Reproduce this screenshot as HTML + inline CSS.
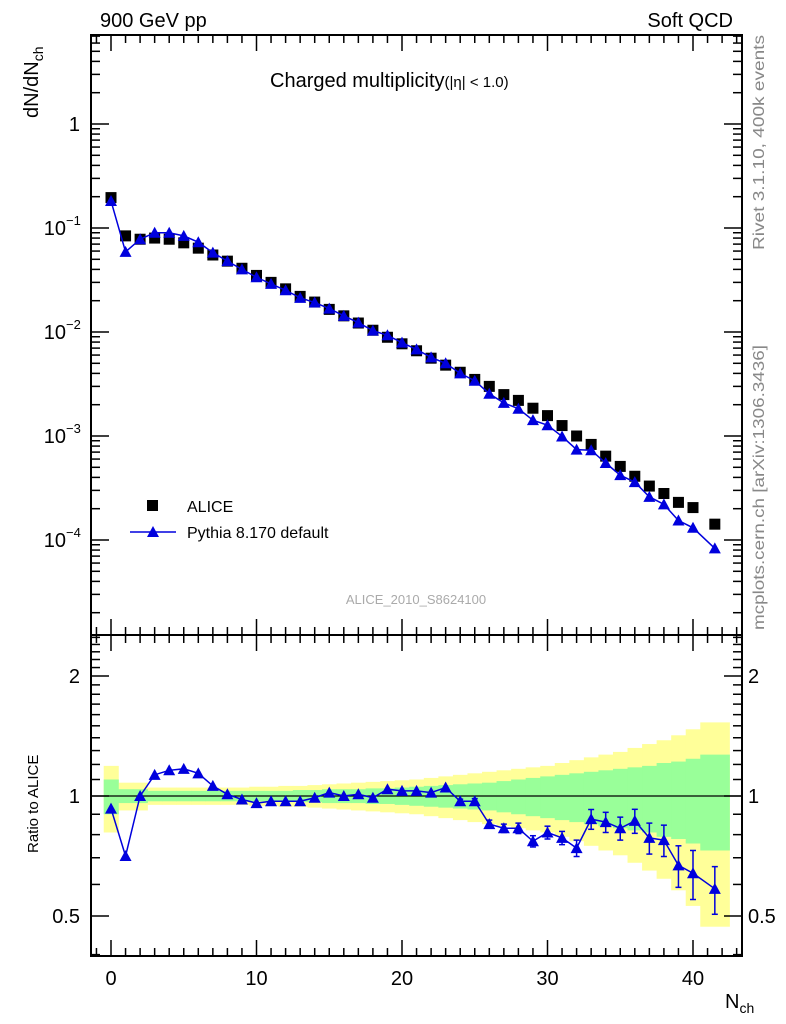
<!DOCTYPE html>
<html><head><meta charset="utf-8"><style>
html,body{margin:0;padding:0;background:#fff}
svg{display:block;font-family:"Liberation Sans",sans-serif}
</style></head><body>
<svg id="c" width="786" height="1024" viewBox="0 0 786 1024"></svg>
<script>
const nch=[0,1,2,3,4,5,6,7,8,9,10,11,12,13,14,15,16,17,18,19,20,21,22,23,24,25,26,27,28,29,30,31,32,33,34,35,36,37,38,39,40,41.5];
const binLo=[-0.5,0.5,1.5,2.5,3.5,4.5,5.5,6.5,7.5,8.5,9.5,10.5,11.5,12.5,13.5,14.5,15.5,16.5,17.5,18.5,19.5,20.5,21.5,22.5,23.5,24.5,25.5,26.5,27.5,28.5,29.5,30.5,31.5,32.5,33.5,34.5,35.5,36.5,37.5,38.5,39.5,40.5];
const binHi=[0.5,1.5,2.5,3.5,4.5,5.5,6.5,7.5,8.5,9.5,10.5,11.5,12.5,13.5,14.5,15.5,16.5,17.5,18.5,19.5,20.5,21.5,22.5,23.5,24.5,25.5,26.5,27.5,28.5,29.5,30.5,31.5,32.5,33.5,34.5,35.5,36.5,37.5,38.5,39.5,40.5,42.5];
const alice=[0.196,0.084,0.078,0.080,0.078,0.072,0.064,0.055,0.048,0.041,0.035,0.030,0.026,0.022,0.0194,0.0165,0.0143,0.0122,0.0104,0.0089,0.0077,0.0066,0.0056,0.0048,0.0041,0.0035,0.0030,0.0025,0.0022,0.00185,0.00157,0.00126,0.00100,0.00083,0.00064,0.00051,0.00041,0.00033,0.00028,0.00023,0.000205,0.000142];
const pythia=[0.182,0.059,0.078,0.090,0.090,0.084,0.073,0.058,0.048,0.040,0.0336,0.029,0.0252,0.0213,0.0192,0.0168,0.0143,0.0123,0.0103,0.0093,0.0079,0.0068,0.0057,0.0050,0.0040,0.0034,0.00255,0.00208,0.00183,0.00142,0.00127,0.00099,0.00074,0.00073,0.00055,0.00042,0.00036,0.00026,0.00022,0.000154,0.000131,0.000083];
const ratio=[0.93,0.707,1.0,1.13,1.16,1.17,1.14,1.06,1.01,0.98,0.96,0.97,0.97,0.97,0.99,1.02,1.0,1.01,0.99,1.04,1.03,1.03,1.02,1.05,0.97,0.97,0.85,0.83,0.83,0.77,0.81,0.785,0.74,0.875,0.86,0.83,0.866,0.785,0.775,0.67,0.64,0.585];
const ratioErr=[0.005,0.005,0.005,0.005,0.005,0.005,0.005,0.005,0.005,0.005,0.005,0.005,0.005,0.005,0.005,0.005,0.005,0.005,0.006,0.006,0.007,0.008,0.009,0.01,0.012,0.015,0.02,0.02,0.025,0.025,0.03,0.03,0.035,0.05,0.05,0.055,0.06,0.07,0.07,0.08,0.09,0.08];
const errTot=[0.19,0.08,0.08,0.05,0.05,0.05,0.05,0.05,0.05,0.05,0.055,0.055,0.06,0.06,0.065,0.07,0.075,0.08,0.085,0.09,0.095,0.10,0.11,0.12,0.13,0.14,0.15,0.16,0.17,0.18,0.19,0.21,0.23,0.25,0.27,0.29,0.32,0.35,0.38,0.42,0.47,0.53];
const errStat=[0.10,0.04,0.04,0.03,0.03,0.03,0.03,0.03,0.03,0.03,0.03,0.03,0.03,0.035,0.035,0.04,0.04,0.04,0.045,0.045,0.05,0.055,0.06,0.065,0.07,0.075,0.08,0.09,0.10,0.11,0.12,0.13,0.14,0.15,0.16,0.17,0.18,0.19,0.21,0.22,0.24,0.27];
const xTicks=[0,10,20,30,40];
const yMainTicks=[1,0.1,0.01,0.001,0.0001];
const yMainLabels=["1","10","10","10","10"];
const yMainExp=["","−1","−2","−3","−4"];
const yRatioTicks=[0.5,1,2];

const NS="http://www.w3.org/2000/svg";
const svg=document.getElementById('c');
function el(t,a,txt){const e=document.createElementNS(NS,t);for(const k in a)e.setAttribute(k,a[k]);if(txt!==undefined)e.textContent=txt;svg.appendChild(e);return e;}
const L=91,R=742,T=35,M=635,B=956;
const X=v=>111+v*14.55;
const Y=v=>124-104*Math.log10(v);
const YR=v=>796-120*Math.log2(v);

for(let i=0;i<nch.length;i++){
  let r=el('rect',{x:X(binLo[i]),y:YR(1+errTot[i]),width:X(binHi[i])-X(binLo[i])+0.5,height:YR(1-errTot[i])-YR(1+errTot[i]),fill:'#ffff99'});
  
  
}
for(let i=0;i<nch.length;i++){
  let r=el('rect',{x:X(binLo[i]),y:YR(1+errStat[i]),width:X(binHi[i])-X(binLo[i])+0.5,height:YR(1-errStat[i])-YR(1+errStat[i]),fill:'#99ff99'});
  
  
}
let ref=el('line',{x1:L,x2:R,y1:YR(1),y2:YR(1),stroke:'#000','stroke-width':1.2});



let f1=el('rect',{x:L,y:T,width:R-L,height:M-T,fill:'none',stroke:'#000','stroke-width':2});


let f2=el('rect',{x:L,y:M,width:R-L,height:B-M,fill:'none',stroke:'#000','stroke-width':2});



for(let v=-1;v<=43;v++){
  const len=(v%10===0)?16:8;const x=X(v);
  [[T,1],[M,-1],[M,1],[B,-1]].forEach(([y0,d])=>{el('line',{x1:x,x2:x,y1:y0,y2:y0+d*len,stroke:'#000','stroke-width':1.5});});
}
xTicks.forEach(v=>{let t=el('text',{x:X(v),y:985,'font-size':20,'text-anchor':'middle'},String(v));

});

for(let e=-5;e<=0;e++){for(let m=1;m<=9;m++){const v=m*Math.pow(10,e);const y=Y(v);if(y<T||y>M)continue;const len=m===1?18:9;
el('line',{x1:L,x2:L+len,y1:y,y2:y,stroke:'#000','stroke-width':1.5});el('line',{x1:R,x2:R-len,y1:y,y2:y,stroke:'#000','stroke-width':1.5});}}
yMainTicks.forEach((v,i)=>{let t=el('text',{x:yMainExp[i]?66:80,y:Y(v)+7,'font-size':20,'text-anchor':'end'},yMainLabels[i]);


if(yMainExp[i]){let s=el('text',{x:66,y:Y(v)-3,'font-size':13},yMainExp[i]);

}});

[0.4,0.5,0.6,0.7,0.8,0.9,1,1.1,1.2,1.3,1.4,1.5,1.6,1.7,1.8,1.9,2,2.1,2.2,2.3,2.4,2.5].forEach(v=>{const y=YR(v);if(y<M||y>B)return;const len=(v===0.5||v===1||v===2)?18:9;
el('line',{x1:L,x2:L+len,y1:y,y2:y,stroke:'#000','stroke-width':1.5});el('line',{x1:R,x2:R-len,y1:y,y2:y,stroke:'#000','stroke-width':1.5});});
yRatioTicks.forEach(v=>{let t=el('text',{x:80,y:YR(v)+7,'font-size':20,'text-anchor':'end'},String(v));


let t2=el('text',{x:748,y:YR(v)+7,'font-size':20},String(v));

});

function tri(x,y,c){return el('polygon',{points:`${x},${y-6} ${x-6},${y+5} ${x+6},${y+5}`,fill:c});}

nch.forEach((v,i)=>{let s=el('rect',{x:X(v)-5.5,y:Y(alice[i])-5.5,width:11,height:11,fill:'#000'});

});
let pts=nch.map((v,i)=>X(v)+','+Y(pythia[i])).join(' ');
let pl=el('polyline',{points:pts,fill:'none',stroke:'#0000dd','stroke-width':1.5});


nch.forEach((v,i)=>{let t=tri(X(v),Y(pythia[i]),'#0000dd');

});
let rpts=nch.map((v,i)=>X(v)+','+YR(ratio[i])).join(' ');
let rl=el('polyline',{points:rpts,fill:'none',stroke:'#0000dd','stroke-width':1.5});


nch.forEach((v,i)=>{const x=X(v),y1=YR(ratio[i]+ratioErr[i]),y2=YR(ratio[i]-ratioErr[i]);
if(y2-y1>4){el('line',{x1:x,x2:x,y1:y1,y2:y2,stroke:'#0000dd','stroke-width':1.5});
el('line',{x1:x-3,x2:x+3,y1:y1,y2:y1,stroke:'#0000dd','stroke-width':1.5});el('line',{x1:x-3,x2:x+3,y1:y2,y2:y2,stroke:'#0000dd','stroke-width':1.5});}
let t=tri(x,YR(ratio[i]),'#0000dd');

});
</script>
<svg width="786" height="1024" style="position:absolute;left:0;top:0" font-family="Liberation Sans, sans-serif">
<text x="100" y="27" font-size="20">900 GeV pp</text>
<text x="733" y="27" font-size="20" text-anchor="end">Soft QCD</text>
<text x="270" y="87" font-size="20">Charged multiplicity<tspan font-size="15" dy="0">(|η| &lt; 1.0)</tspan></text>
<text transform="translate(38,118) rotate(-90)" font-size="20">dN/dN<tspan font-size="14" dy="5">ch</tspan></text>
<text transform="translate(38,853) rotate(-90)" font-size="15">Ratio to ALICE</text>
<text x="725" y="1008" font-size="20">N<tspan font-size="14" dy="5">ch</tspan></text>
<rect x="147" y="500" width="11" height="11" fill="#000"/>
<text x="187" y="512" font-size="16">ALICE</text>
<line x1="130" x2="176" y1="532" y2="532" stroke="#0000dd" stroke-width="1.5"/>
<polygon points="153,526 147,537 159,537" fill="#0000dd"/>
<text x="187" y="538" font-size="16">Pythia 8.170 default</text>
<text x="416" y="604" font-size="13" fill="#aaa" text-anchor="middle">ALICE_2010_S8624100</text>
<text transform="translate(764,250) rotate(-90)" font-size="16" textLength="215" lengthAdjust="spacingAndGlyphs" fill="#888">Rivet 3.1.10,  400k events</text>
<text transform="translate(764,630) rotate(-90)" font-size="16" textLength="285" lengthAdjust="spacingAndGlyphs" fill="#888">mcplots.cern.ch [arXiv:1306.3436]</text>
</svg>
</body></html>
